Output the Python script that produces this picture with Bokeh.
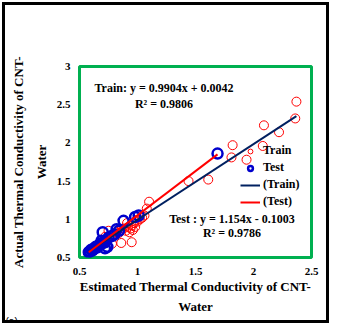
from bokeh.plotting import figure
from bokeh.models import Range1d, Label, Legend, LegendItem, FixedTicker, NumeralTickFormatter, Title
from bokeh.embed import file_html
from bokeh.resources import INLINE

# ---- data ----
train_x = [2.37, 2.36, 2.09, 2.22, 2.08, 1.82, 1.81, 1.94, 1.44, 1.61, 1.10, 1.08,
           0.95, 0.86, 0.78, 0.75,
           0.88, 0.90, 0.92, 0.94, 0.95, 0.96, 0.97, 0.98, 1.00, 1.02, 1.04, 0.93, 0.99, 1.06, 0.91,
           0.60, 0.62, 0.64, 0.66, 0.68, 0.70, 0.72, 0.74, 0.76, 0.80, 0.82, 0.84, 0.86, 0.78, 0.72]
train_y = [2.54, 2.32, 2.23, 2.14, 1.96, 1.97, 1.81, 1.78, 1.50, 1.52, 1.23, 1.14,
           0.70, 0.69, 0.68, 0.85,
           0.88, 0.85, 0.90, 0.88, 0.92, 0.86, 0.95, 0.90, 0.97, 1.00, 1.02, 0.83, 0.99, 1.05, 0.95,
           0.60, 0.62, 0.63, 0.66, 0.67, 0.70, 0.71, 0.74, 0.76, 0.80, 0.83, 0.82, 0.86, 0.79, 0.77]

test_x = [1.69, 0.88, 1.01, 0.70, 0.82, 0.58, 0.59, 0.60, 0.61, 0.62, 0.63, 0.64, 0.65,
          0.66, 0.67, 0.68, 0.70, 0.72, 0.74, 0.72, 0.69, 0.75, 0.78, 0.80, 0.84, 0.98]
test_y = [1.86, 0.98, 1.05, 0.83, 0.87, 0.57, 0.58, 0.60, 0.59, 0.61, 0.62, 0.64, 0.63,
          0.65, 0.66, 0.68, 0.69, 0.70, 0.64, 0.62, 0.72, 0.76, 0.78, 0.80, 0.85, 1.03]

# trendlines as printed on the chart
train_slope, train_icept = 0.9904, 0.0042
test_slope, test_icept = 1.154, -0.1003
train_line_x = [0.58, 2.37]
test_line_x = [0.58, 1.69]

x_ticks = [0.5, 1, 1.5, 2, 2.5]
y_ticks = [0.5, 1, 1.5, 2, 2.5, 3]

FONT = "Liberation Serif"

p = figure(width=327, height=321, x_range=Range1d(0.5, 2.5), y_range=Range1d(0.5, 3),
           output_backend="svg", toolbar_location=None,
           min_border_left=74, min_border_right=21, min_border_top=61, min_border_bottom=69)
p.styles = {"position": "absolute", "left": "2px", "top": "2px",
            "border": "3px solid black", "background-color": "white"}
p.background_fill_color = "white"
p.border_fill_color = "white"
p.outline_line_color = "#00B050"
p.outline_line_width = 3
p.grid.visible = False

for ax in (p.xaxis[0], p.yaxis[0]):
    ax.axis_line_color = None
    ax.major_tick_line_color = None
    ax.minor_tick_line_color = None
    ax.major_label_text_font = FONT
    ax.major_label_text_font_style = "bold"
    ax.major_label_text_font_size = "11px"
    ax.major_label_text_color = "black"
    ax.formatter = NumeralTickFormatter(format="0.[0]")
    ax.axis_label_text_font = FONT
    ax.axis_label_text_font_style = "bold"
    ax.axis_label_text_font_size = "13px"
    ax.axis_label_text_color = "black"
p.xaxis[0].ticker = FixedTicker(ticks=x_ticks)
p.yaxis[0].ticker = FixedTicker(ticks=y_ticks)
p.xaxis[0].major_label_standoff = 4
p.yaxis[0].major_label_standoff = 3
p.xaxis[0].axis_label = "Estimated Thermal Conductivity of CNT-"
p.xaxis[0].axis_label_standoff = 1

r_train = p.scatter(train_x, train_y, marker="circle", size=9, fill_color=None,
                    line_color="#FF0000", line_width=1)
r_test = p.scatter(test_x, test_y, marker="circle", size=10, fill_color=None,
                   line_color="#0000CC", line_width=2.5)
l_train = p.line(train_line_x, [train_slope * v + train_icept for v in train_line_x],
                 line_color="#002060", line_width=2)
l_test = p.line(test_line_x, [test_slope * v + test_icept for v in test_line_x],
                line_color="#FF0000", line_width=2)

legend = Legend(items=[LegendItem(label="Train", renderers=[r_train]),
                       LegendItem(label="Test", renderers=[r_test]),
                       LegendItem(label="(Train)", renderers=[l_train]),
                       LegendItem(label="(Test)", renderers=[l_test])],
                location=(161, 48), orientation="vertical",
                glyph_width=20, glyph_height=12, label_height=12,
                label_standoff=3, spacing=2, padding=0, margin=0,
                border_line_color=None, background_fill_alpha=0,
                label_text_font=FONT, label_text_font_style="bold",
                label_text_font_size="12px", label_text_color="black")
p.add_layout(legend)

def title(s, side, standoff, align="center", offset=0, size="13px",
          font=FONT, style="bold"):
    p.add_layout(Title(text=s, align=align, offset=offset, standoff=standoff,
                       text_font=font, text_font_style=style, text_font_size=size,
                       text_color="black"), side)

# second line of the x-axis title, and the "(a)" panel tag
title("Water", "below", 0)
title("(a)", "below", 0, align="left", offset=-74, size="10px",
      font="Liberation Sans", style="normal")
# y-axis title, two lines (closest to the axis first)
title("Water", "left", 10)
title("Actual Thermal Conductivity of CNT-", "left", 2)

def txt(s, x, y):
    p.add_layout(Label(x=x, y=y, x_units="screen", y_units="screen", text=s,
                       text_align="center", text_baseline="middle",
                       text_font=FONT, text_font_style="bold", text_font_size="12px",
                       text_color="black"))

txt("Train: y = 0.9904x + 0.0042", 84.5, 170)
txt("R\u00b2 = 0.9806", 84.5, 154)
txt("Test : y = 1.154x - 0.1003", 152.5, 39)
txt("R\u00b2 = 0.9786", 152.5, 25)

open("out.html", "w").write(file_html(p, INLINE))
